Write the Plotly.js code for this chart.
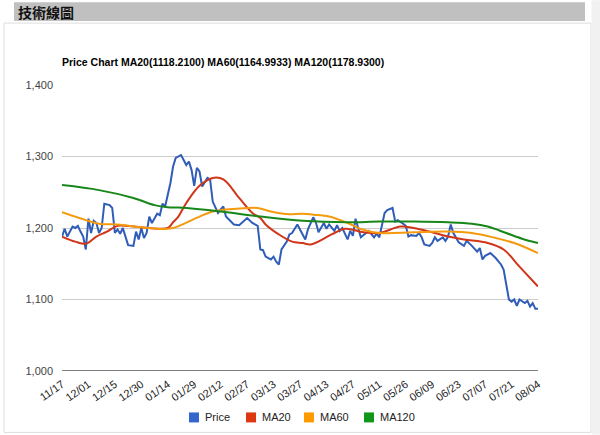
<!DOCTYPE html>
<html>
<head>
<meta charset="utf-8">
<script src="https://cdn.plot.ly/plotly-3.0.1.min.js"></script>
<style>
  html, body { margin: 0; padding: 0; background: #ffffff; }
  #chart { width: 600px; height: 435px; }
</style>
</head>
<body>
<div id="chart"></div>
<script>
// ---- data ----
const tickLabels = ["11/17","12/01","12/15","12/30","01/14","01/29","02/12","02/27","03/13","03/27",
                    "04/13","04/27","05/11","05/26","06/09","06/23","07/07","07/21","08/04"];
const tickDays = [0,10,20,30,40,50,60,70,80,90,100,110,120,130,140,150,160,170,180];

const priceDays = [0,1,2,4,5,6,7,8,9,10,11,12,13,14,15,16,18,19,20,21,22,23,24,25,27,28,29,30,31,32,33,34,36,37,38,39,
  41,42,43,45,46,47,48,49,50,51,52,53,55,56,57,58,59,60,61,62,63,65,67,70,72,74,75,76,77,79,80,81,82,83,85,86,87,89,90,
  92,93,95,96,97,99,100,101,103,104,105,106,108,109,110,111,112,113,115,116,118,119,120,121,122,123,125,126,127,129,130,
  131,132,134,135,136,137,139,140,141,142,144,145,146,147,148,149,150,152,153,155,157,158,159,160,162,164,166,167,168,169,
  170,171,172,173,175,176,177,178,179,180];
const priceVals = [1188,1199,1188,1202,1200,1203,1195,1188,1170,1213,1193,1210,1207,1193,1200,1234,1232,1228,1193,1198,1192,1200,1188,1176,1175,1195,1184,1200,1186,1193,1216,1207,1220,1218,1234,1230,
  1263,1286,1298,1302,1295,1288,1293,1281,1259,1284,1279,1258,1270,1268,1237,1230,1221,1226,1230,1216,1212,1205,1204,1214,1207,1203,1170,1169,1160,1156,1160,1153,1149,1170,1181,1191,1193,1205,1198,
  1184,1198,1215,1208,1194,1207,1199,1205,1196,1204,1196,1200,1184,1196,1189,1213,1201,1187,1193,1196,1187,1192,1187,1205,1221,1225,1228,1209,1211,1206,1203,
  1188,1190,1189,1193,1187,1177,1175,1179,1187,1182,1187,1182,1188,1205,1193,1187,1180,1175,1182,1175,1167,1172,1156,1161,1165,1158,1149,1142,1123,1100,
  1097,1100,1091,1100,1095,1098,1090,1095,1087,1087];

const ma20Days = [0,5,9,13,17,21,27,33,40,42,44,47,52,57,61,67,72,75,77,82,87,91,94,102,107,114,120,128,133,139,146,152,161,167,173,180];
const ma20Vals = [1188,1181,1178,1188,1195,1203,1202,1200,1200,1208,1216,1235,1259,1270,1268,1242,1221,1214,1205,1191,1181,1179,1177,1191,1199,1194,1193,1202,1200,1195,1188,1184,1179,1170,1146,1118.21];

const ma60Days = [0,9,14,22,30,37,42,52,57,60,65,74,79,85,91,95,101,108,113,120,133,146,155,164,171,180];
const ma60Vals = [1222,1211,1206,1204.6,1201,1198.6,1200,1216,1223,1225,1226.5,1228,1223,1219.5,1220,1218.6,1216,1207,1198.6,1193,1194,1195,1193,1186,1179,1164.99];

const ma120Days = [0,14,27,35,40,44,60,75,91,108,120,133,146,155,161,168,174,180];
const ma120Vals = [1260,1253,1242,1232,1229,1228.5,1223,1216,1210,1208,1209,1209,1208,1206,1202,1193,1185,1178.93];

const seriesNames = ["Price","MA20","MA60","MA120"];
const seriesColors = ["#2f5db8","#d0361a","#f59a0c","#17871a"];
const legendColors = ["#3366cc","#dc3912","#ff9900","#109618"];

// ---- layout geometry ----
const W = 600, H = 435;
const M = {l: 62, r: 62, t: 85, b: 63.5};
const pw = W - M.l - M.r, ph = H - M.t - M.b;
const px2x = p => (p - M.l) / pw;
const py2y = p => (H - M.b - p) / ph;

const font = "Arial, 'Liberation Sans', sans-serif";

const traces = [];
const xs = [priceDays, ma20Days, ma60Days, ma120Days];
const ys = [priceVals, ma20Vals, ma60Vals, ma120Vals];
for (let k = 0; k < 4; k++) {
  traces.push({
    x: xs[k], y: ys[k], type: "scatter", mode: "lines",
    line: {color: seriesColors[k], width: 2, shape: k === 0 ? "linear" : "spline", smoothing: 1},
    name: seriesNames[k], showlegend: false, hoverinfo: "skip"
  });
}

const shapes = [
  // outer frame
  {type: "rect", xref: "paper", yref: "paper", x0: px2x(4), x1: px2x(591), y0: py2y(433), y1: py2y(23),
   line: {color: "#dddddd", width: 1}, fillcolor: "rgba(0,0,0,0)", layer: "below"},
  // right grey strip
  {type: "rect", xref: "paper", yref: "paper", x0: px2x(591.5), x1: px2x(600), y0: py2y(435), y1: py2y(0),
   line: {width: 0}, fillcolor: "#f1f1f1", layer: "below"},
  // header bar
  {type: "rect", xref: "paper", yref: "paper", x0: px2x(14), x1: px2x(585), y0: py2y(21), y1: py2y(2),
   line: {width: 0}, fillcolor: "#c0c0c0", layer: "below"},
  // baseline at 1000
  {type: "line", xref: "paper", yref: "y", x0: 0, x1: 1, y0: 1000, y1: 1000,
   line: {color: "#555555", width: 1.5}, layer: "above"}
];
const annotations = [
  {text: "<b>技術線圖</b>", xref: "paper", yref: "paper", x: px2x(16), y: py2y(11.5),
   xanchor: "left", yanchor: "middle", showarrow: false,
   font: {family: "'Noto Sans CJK TC', 'Noto Sans CJK SC', sans-serif", size: 14, color: "#111"}}
];

// custom legend (square swatch + label), positioned to match the original layout
const legendSwatchLeft = [189, 246, 304, 364];
const legendY = 418;
for (let k = 0; k < 4; k++) {
  const x0 = legendSwatchLeft[k];
  shapes.push({type: "rect", xref: "paper", yref: "paper",
    x0: px2x(x0), x1: px2x(x0 + 10), y0: py2y(legendY + 5), y1: py2y(legendY - 5),
    line: {color: legendColors[k], width: 0}, fillcolor: legendColors[k]});
  annotations.push({text: seriesNames[k], xref: "paper", yref: "paper",
    x: px2x(x0 + 14), y: py2y(legendY), xanchor: "left", yanchor: "middle", showarrow: false,
    font: {family: font, size: 11, color: "#222"}});
}

const layout = {
  width: W, height: H,
  margin: M,
  paper_bgcolor: "#ffffff",
  plot_bgcolor: "rgba(0,0,0,0)",
  font: {family: font, size: 11, color: "#222"},
  title: {
    text: "<b>Price Chart MA20(1118.2100) MA60(1164.9933) MA120(1178.9300)</b>",
    font: {family: font, size: 10.5, color: "#000"},
    x: px2x(62), xref: "paper", xanchor: "left",
    y: 1 - 62 / H, yref: "container", yanchor: "middle"
  },
  xaxis: {
    range: [0, 180], tickmode: "array", tickvals: tickDays, ticktext: tickLabels,
    tickangle: -35, showgrid: false, zeroline: false, showline: false, ticks: "",
    ticklabelstandoff: 4,
    tickfont: {family: font, size: 11, color: "#222"}, fixedrange: true
  },
  yaxis: {
    range: [1000, 1400], tickvals: [1000, 1100, 1200, 1300, 1400],
    ticktext: ["1,000", "1,100", "1,200", "1,300", "1,400"],
    showgrid: true, gridcolor: "#cccccc", gridwidth: 1, zeroline: false, showline: false, ticks: "",
    ticklabelstandoff: 8,
    tickfont: {family: font, size: 11, color: "#444"}, fixedrange: true
  },
  showlegend: false,
  shapes: shapes,
  annotations: annotations
};

Plotly.newPlot("chart", traces, layout, {displayModeBar: false, staticPlot: true});
</script>
</body>
</html>
